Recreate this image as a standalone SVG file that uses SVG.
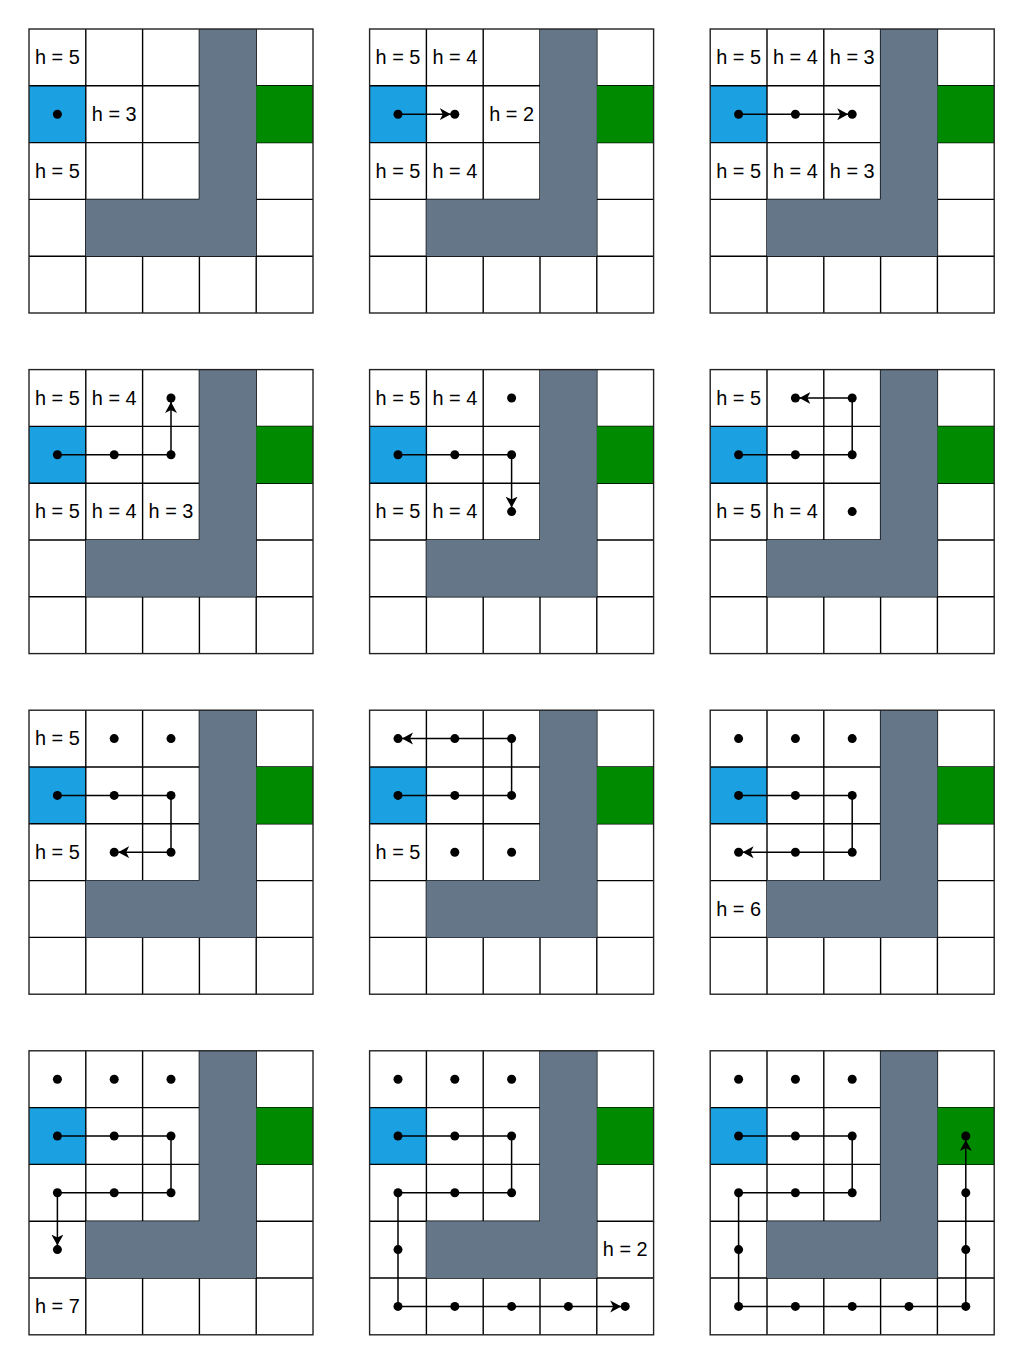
<svg xmlns="http://www.w3.org/2000/svg" xmlns:xlink="http://www.w3.org/1999/xlink" width="1024" height="1363" viewBox="0 0 1024 1363">
<style>
.h{font-family:"Liberation Sans",Arial,Helvetica,sans-serif;font-size:19.9px;fill:#000;text-anchor:middle}
.grid{stroke:#000;stroke-width:1.4;fill:none}
.route{stroke:#000;stroke-width:1.5;fill:none}
.arrow{marker-end:url(#arr)}
.dot{fill:#000}
</style>
<defs>
<marker id="arr" markerUnits="userSpaceOnUse" viewBox="0 -7 18 14" markerWidth="18" markerHeight="14" refX="15" refY="0" orient="auto">
<path d="M0,-6 L11,0 L0,6 L3,0 Z" fill="#000"/>
</marker>
<g id="board">
<rect width="284" height="284" fill="#fff"/>
<rect x="0" y="56.8" width="56.8" height="56.8" fill="#1ba1e2"/>
<path class="grid" d="M56.8,0V284M113.6,0V284M170.4,0V284M227.2,0V284M0,56.8H284M0,113.6H284M0,170.4H284M0,227.2H284"/>
<rect x="227.2" y="56.8" width="56.8" height="56.8" fill="#008a00"/>
<path d="M170.4,0H227.2V227.2H56.8V170.4H170.4Z" fill="#647687"/>
<rect width="284" height="284" fill="none" stroke="#222" stroke-width="1.4"/>
</g>
</defs>

<g id="panel-1" transform="translate(29,29)">
<use xlink:href="#board" href="#board"/>
<text class="h" x="28.4" y="35">h = 5</text>
<text class="h" x="85.2" y="91.8">h = 3</text>
<text class="h" x="28.4" y="148.6">h = 5</text>
<g id="panel-1-nodes"><circle class="dot" cx="28.4" cy="85.2" r="4.5"/></g>
</g>

<g id="panel-2" transform="translate(369.6,29)">
<use xlink:href="#board" href="#board"/>
<text class="h" x="28.4" y="35">h = 5</text>
<text class="h" x="85.2" y="35">h = 4</text>
<text class="h" x="142" y="91.8">h = 2</text>
<text class="h" x="28.4" y="148.6">h = 5</text>
<text class="h" x="85.2" y="148.6">h = 4</text>
<g id="panel-2-connectors"><polyline class="route arrow" points="28.4,85.2 85.2,85.2"/></g>
<g id="panel-2-nodes"><circle class="dot" cx="28.4" cy="85.2" r="4.5"/><circle class="dot" cx="85.2" cy="85.2" r="4.5"/></g>
</g>

<g id="panel-3" transform="translate(710.2,29)">
<use xlink:href="#board" href="#board"/>
<text class="h" x="28.4" y="35">h = 5</text>
<text class="h" x="85.2" y="35">h = 4</text>
<text class="h" x="142" y="35">h = 3</text>
<text class="h" x="28.4" y="148.6">h = 5</text>
<text class="h" x="85.2" y="148.6">h = 4</text>
<text class="h" x="142" y="148.6">h = 3</text>
<g id="panel-3-connectors"><polyline class="route arrow" points="28.4,85.2 85.2,85.2 142,85.2"/></g>
<g id="panel-3-nodes"><circle class="dot" cx="28.4" cy="85.2" r="4.5"/><circle class="dot" cx="85.2" cy="85.2" r="4.5"/><circle class="dot" cx="142" cy="85.2" r="4.5"/></g>
</g>

<g id="panel-4" transform="translate(29,369.6)">
<use xlink:href="#board" href="#board"/>
<text class="h" x="28.4" y="35">h = 5</text>
<text class="h" x="85.2" y="35">h = 4</text>
<text class="h" x="28.4" y="148.6">h = 5</text>
<text class="h" x="85.2" y="148.6">h = 4</text>
<text class="h" x="142" y="148.6">h = 3</text>
<g id="panel-4-connectors"><polyline class="route arrow" points="28.4,85.2 85.2,85.2 142,85.2 142,28.4"/></g>
<g id="panel-4-nodes"><circle class="dot" cx="28.4" cy="85.2" r="4.5"/><circle class="dot" cx="85.2" cy="85.2" r="4.5"/><circle class="dot" cx="142" cy="85.2" r="4.5"/><circle class="dot" cx="142" cy="28.4" r="4.5"/></g>
</g>

<g id="panel-5" transform="translate(369.6,369.6)">
<use xlink:href="#board" href="#board"/>
<text class="h" x="28.4" y="35">h = 5</text>
<text class="h" x="85.2" y="35">h = 4</text>
<text class="h" x="28.4" y="148.6">h = 5</text>
<text class="h" x="85.2" y="148.6">h = 4</text>
<g id="panel-5-connectors"><polyline class="route arrow" points="28.4,85.2 85.2,85.2 142,85.2 142,142"/></g>
<g id="panel-5-nodes"><circle class="dot" cx="142" cy="28.4" r="4.5"/><circle class="dot" cx="28.4" cy="85.2" r="4.5"/><circle class="dot" cx="85.2" cy="85.2" r="4.5"/><circle class="dot" cx="142" cy="85.2" r="4.5"/><circle class="dot" cx="142" cy="142" r="4.5"/></g>
</g>

<g id="panel-6" transform="translate(710.2,369.6)">
<use xlink:href="#board" href="#board"/>
<text class="h" x="28.4" y="35">h = 5</text>
<text class="h" x="28.4" y="148.6">h = 5</text>
<text class="h" x="85.2" y="148.6">h = 4</text>
<g id="panel-6-connectors"><polyline class="route arrow" points="28.4,85.2 85.2,85.2 142,85.2 142,28.4 85.2,28.4"/></g>
<g id="panel-6-nodes"><circle class="dot" cx="142" cy="142" r="4.5"/><circle class="dot" cx="28.4" cy="85.2" r="4.5"/><circle class="dot" cx="85.2" cy="85.2" r="4.5"/><circle class="dot" cx="142" cy="85.2" r="4.5"/><circle class="dot" cx="142" cy="28.4" r="4.5"/><circle class="dot" cx="85.2" cy="28.4" r="4.5"/></g>
</g>

<g id="panel-7" transform="translate(29,710.2)">
<use xlink:href="#board" href="#board"/>
<text class="h" x="28.4" y="35">h = 5</text>
<text class="h" x="28.4" y="148.6">h = 5</text>
<g id="panel-7-connectors"><polyline class="route arrow" points="28.4,85.2 85.2,85.2 142,85.2 142,142 85.2,142"/></g>
<g id="panel-7-nodes"><circle class="dot" cx="85.2" cy="28.4" r="4.5"/><circle class="dot" cx="142" cy="28.4" r="4.5"/><circle class="dot" cx="28.4" cy="85.2" r="4.5"/><circle class="dot" cx="85.2" cy="85.2" r="4.5"/><circle class="dot" cx="142" cy="85.2" r="4.5"/><circle class="dot" cx="142" cy="142" r="4.5"/><circle class="dot" cx="85.2" cy="142" r="4.5"/></g>
</g>

<g id="panel-8" transform="translate(369.6,710.2)">
<use xlink:href="#board" href="#board"/>
<text class="h" x="28.4" y="148.6">h = 5</text>
<g id="panel-8-connectors"><polyline class="route arrow" points="28.4,85.2 85.2,85.2 142,85.2 142,28.4 85.2,28.4 28.4,28.4"/></g>
<g id="panel-8-nodes"><circle class="dot" cx="85.2" cy="142" r="4.5"/><circle class="dot" cx="142" cy="142" r="4.5"/><circle class="dot" cx="28.4" cy="85.2" r="4.5"/><circle class="dot" cx="85.2" cy="85.2" r="4.5"/><circle class="dot" cx="142" cy="85.2" r="4.5"/><circle class="dot" cx="142" cy="28.4" r="4.5"/><circle class="dot" cx="85.2" cy="28.4" r="4.5"/><circle class="dot" cx="28.4" cy="28.4" r="4.5"/></g>
</g>

<g id="panel-9" transform="translate(710.2,710.2)">
<use xlink:href="#board" href="#board"/>
<text class="h" x="28.4" y="205.4">h = 6</text>
<g id="panel-9-connectors"><polyline class="route arrow" points="28.4,85.2 85.2,85.2 142,85.2 142,142 85.2,142 28.4,142"/></g>
<g id="panel-9-nodes"><circle class="dot" cx="28.4" cy="28.4" r="4.5"/><circle class="dot" cx="85.2" cy="28.4" r="4.5"/><circle class="dot" cx="142" cy="28.4" r="4.5"/><circle class="dot" cx="28.4" cy="85.2" r="4.5"/><circle class="dot" cx="85.2" cy="85.2" r="4.5"/><circle class="dot" cx="142" cy="85.2" r="4.5"/><circle class="dot" cx="142" cy="142" r="4.5"/><circle class="dot" cx="85.2" cy="142" r="4.5"/><circle class="dot" cx="28.4" cy="142" r="4.5"/></g>
</g>

<g id="panel-10" transform="translate(29,1050.8)">
<use xlink:href="#board" href="#board"/>
<text class="h" x="28.4" y="262.2">h = 7</text>
<g id="panel-10-connectors"><polyline class="route arrow" points="28.4,85.2 85.2,85.2 142,85.2 142,142 85.2,142 28.4,142 28.4,198.8"/></g>
<g id="panel-10-nodes"><circle class="dot" cx="28.4" cy="28.4" r="4.5"/><circle class="dot" cx="85.2" cy="28.4" r="4.5"/><circle class="dot" cx="142" cy="28.4" r="4.5"/><circle class="dot" cx="28.4" cy="85.2" r="4.5"/><circle class="dot" cx="85.2" cy="85.2" r="4.5"/><circle class="dot" cx="142" cy="85.2" r="4.5"/><circle class="dot" cx="142" cy="142" r="4.5"/><circle class="dot" cx="85.2" cy="142" r="4.5"/><circle class="dot" cx="28.4" cy="142" r="4.5"/><circle class="dot" cx="28.4" cy="198.8" r="4.5"/></g>
</g>

<g id="panel-11" transform="translate(369.6,1050.8)">
<use xlink:href="#board" href="#board"/>
<text class="h" x="255.6" y="205.4">h = 2</text>
<g id="panel-11-connectors"><polyline class="route arrow" points="28.4,85.2 85.2,85.2 142,85.2 142,142 85.2,142 28.4,142 28.4,198.8 28.4,255.6 85.2,255.6 142,255.6 198.8,255.6 255.6,255.6"/></g>
<g id="panel-11-nodes"><circle class="dot" cx="28.4" cy="28.4" r="4.5"/><circle class="dot" cx="85.2" cy="28.4" r="4.5"/><circle class="dot" cx="142" cy="28.4" r="4.5"/><circle class="dot" cx="28.4" cy="85.2" r="4.5"/><circle class="dot" cx="85.2" cy="85.2" r="4.5"/><circle class="dot" cx="142" cy="85.2" r="4.5"/><circle class="dot" cx="142" cy="142" r="4.5"/><circle class="dot" cx="85.2" cy="142" r="4.5"/><circle class="dot" cx="28.4" cy="142" r="4.5"/><circle class="dot" cx="28.4" cy="198.8" r="4.5"/><circle class="dot" cx="28.4" cy="255.6" r="4.5"/><circle class="dot" cx="85.2" cy="255.6" r="4.5"/><circle class="dot" cx="142" cy="255.6" r="4.5"/><circle class="dot" cx="198.8" cy="255.6" r="4.5"/><circle class="dot" cx="255.6" cy="255.6" r="4.5"/></g>
</g>

<g id="panel-12" transform="translate(710.2,1050.8)">
<use xlink:href="#board" href="#board"/>
<g id="panel-12-connectors"><polyline class="route arrow" points="28.4,85.2 85.2,85.2 142,85.2 142,142 85.2,142 28.4,142 28.4,198.8 28.4,255.6 85.2,255.6 142,255.6 198.8,255.6 255.6,255.6 255.6,198.8 255.6,142 255.6,85.2"/></g>
<g id="panel-12-nodes"><circle class="dot" cx="28.4" cy="28.4" r="4.5"/><circle class="dot" cx="85.2" cy="28.4" r="4.5"/><circle class="dot" cx="142" cy="28.4" r="4.5"/><circle class="dot" cx="28.4" cy="85.2" r="4.5"/><circle class="dot" cx="85.2" cy="85.2" r="4.5"/><circle class="dot" cx="142" cy="85.2" r="4.5"/><circle class="dot" cx="142" cy="142" r="4.5"/><circle class="dot" cx="85.2" cy="142" r="4.5"/><circle class="dot" cx="28.4" cy="142" r="4.5"/><circle class="dot" cx="28.4" cy="198.8" r="4.5"/><circle class="dot" cx="28.4" cy="255.6" r="4.5"/><circle class="dot" cx="85.2" cy="255.6" r="4.5"/><circle class="dot" cx="142" cy="255.6" r="4.5"/><circle class="dot" cx="198.8" cy="255.6" r="4.5"/><circle class="dot" cx="255.6" cy="255.6" r="4.5"/><circle class="dot" cx="255.6" cy="198.8" r="4.5"/><circle class="dot" cx="255.6" cy="142" r="4.5"/><circle class="dot" cx="255.6" cy="85.2" r="4.5"/></g>
</g>
</svg>
